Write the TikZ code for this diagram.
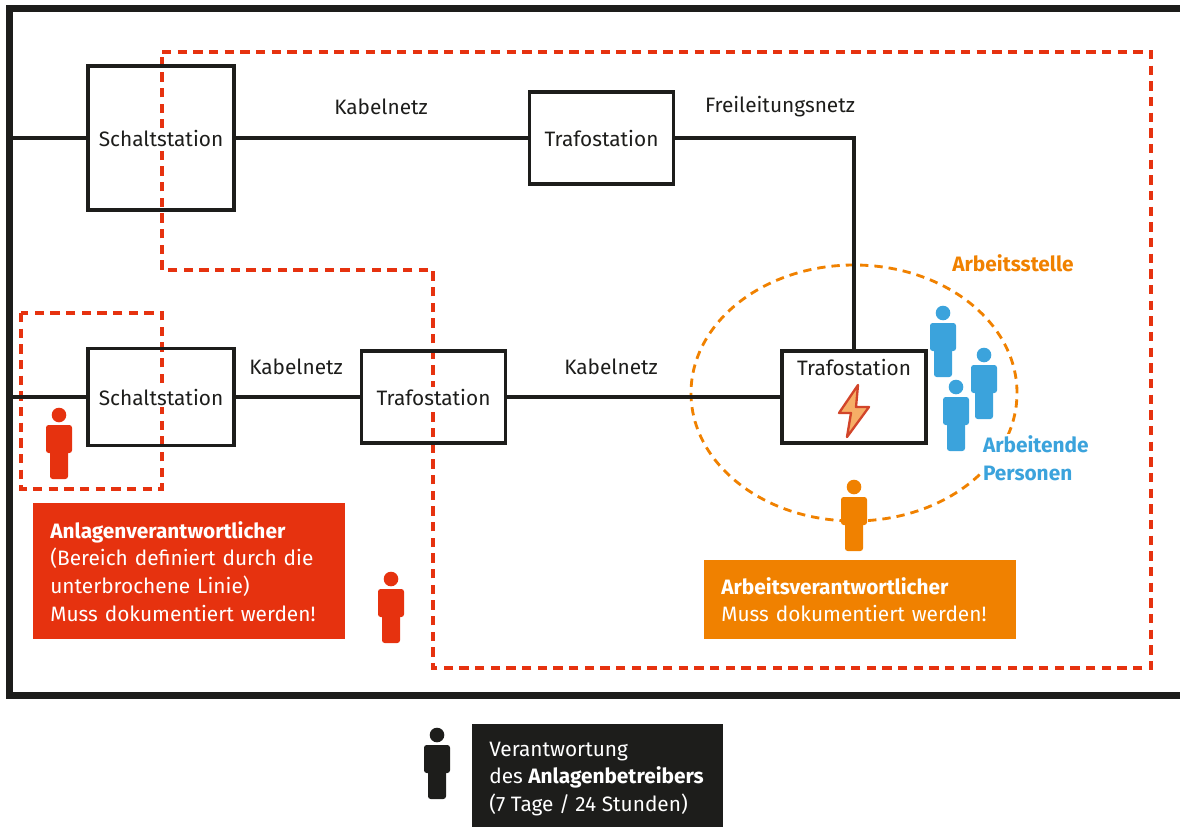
\documentclass[tikz,border=0pt]{standalone}
\usepackage{fontspec}
\setmainfont{Fira Sans}
\usetikzlibrary{positioning,shapes.geometric}

\definecolor{linegray}{HTML}{1D1D1B}
\definecolor{planred}{HTML}{E6320F}
\definecolor{workorange}{HTML}{F08100}
\definecolor{crewblue}{HTML}{3BA3DC}
\definecolor{boltfill}{HTML}{F6AE66}
\definecolor{boltline}{HTML}{D2452A}

\tikzset{
    basefont/.style={font=\fontsize{12.5}{16.6}\selectfont},
    stationbox/.style={draw=linegray, line width=1.9pt, minimum width=86.4pt, minimum height=55.2pt, outer sep=0pt},
    stationtext/.style={basefont, text=linegray, fill=white, inner sep=1.2pt},
    nettext/.style={basefont, text=linegray, inner sep=0pt},
    netline/.style={draw=linegray, line width=1.9pt},
    regionline/.style={draw=planred, line width=2.2pt, dash pattern=on 5.6pt off 3.8pt},
    notebox/.style={basefont, text=white, anchor=north west, align=left, inner xsep=10.2pt, inner ysep=0pt, minimum width=187.2pt, text width=166.8pt},
    person/.pic={
        \fill (0,0) circle (7.3);
        \fill[rounded corners=1.6pt] (-13,10) rectangle (13,38);
        \fill[rounded corners=1.6pt] (-9,30) rectangle (9,64);
    }
}

\begin{document}
\begin{tikzpicture}[x=0.6pt, y=-0.6pt]
\useasboundingbox (0,0) rectangle (1180,827);

%Regions
\draw[regionline] (162,52) -- (1151,52) -- (1151,668) -- (433,668) -- (433,270) -- (162,270) -- cycle;
\draw[regionline] (21,313) rectangle (162,489);
\node[ellipse, draw=workorange, line width=1.7pt, dash pattern=on 5pt off 3.6pt, minimum width=195.6pt, minimum height=153.6pt, inner sep=0pt] (site) at (854,393) {};

%Frame
\draw[linegray, line width=4.2pt] (1180,9) -- (9,9) -- (9,695) -- (1180,695);
\coordinate (feedtop) at (9,138);
\coordinate (feedlow) at (9,397);

%Nodes
\node[stationbox, minimum width=87.6pt, minimum height=86.4pt] (schalttop)                            at (161,138) {};
\node[stationbox]                                              (trafotop)  [right=177.3pt of schalttop]            {};
\node[stationbox, minimum width=87.6pt, minimum height=58.2pt] (schaltlow)                            at (161,397) {};
\node[stationbox]                                              (trafolow)  [right=76.5pt of schaltlow]             {};
\node[stationbox]                                              (trafosite) [right=165.9pt of trafolow]             {};

\node[stationtext] (schalttoptext) at (schalttop) {Schaltstation};
\node[stationtext] (trafotoptext)  at (trafotop)  {Trafostation};
\node[stationtext] (schaltlowtext) at (schaltlow) {Schaltstation};
\node[stationtext] (trafolowtext)  at (trafolow)  {Trafostation};
\node[stationtext] (trafositetext) at (854,367)   {Trafostation};

\node[nettext] (cabletop)  at (381,107) {Kabelnetz};
\node[nettext] (overhead)  at (780,107) {Freileitungsnetz};
\node[nettext] (cablelow)  at (296,367) {Kabelnetz};
\node[nettext] (cablesite) at (611,367) {Kabelnetz};

\node[basefont, text=workorange, inner sep=0pt] (sitetext) at (1013,263) {\textbf{Arbeitsstelle}};
\node[basefont, text=crewblue, fill=white, align=left, anchor=north west, inner sep=1pt] (crewtext) at (981,434) {\textbf{Arbeitende}\\\textbf{Personen}};

%Lines
\draw[netline] (feedtop) -- (schalttop.west);
\draw[netline] (schalttop.east) -- (trafotop.west);
\draw[netline] (trafotop.east) -| (trafosite.north);
\draw[netline] (feedlow) -- (schaltlow.west);
\draw[netline] (schaltlow.east) -- (trafolow.west);
\draw[netline] (trafolow.east) -- (trafosite.west);

%Bolt
\draw[fill=boltfill, draw=boltline, line width=1.4pt, line join=round] (858,385) -- (839,413) -- (851,413) -- (847,437) -- (869,407) -- (856,407) -- cycle;

%People
\pic[planred]    at (59,415)  {person};
\pic[planred]    at (391,579) {person};
\pic[linegray]   at (437,735) {person};
\pic[workorange] at (854,487) {person};
\pic[crewblue]   at (943,313) {person};
\pic[crewblue]   at (984,355) {person};
\pic[crewblue]   at (956,387) {person};

%Notes
\node[notebox, fill=planred, minimum height=81.6pt] (plannote) at (33,503)
    {\textbf{Anlagenverantwortlicher}\\(Bereich definiert durch die\\unterbrochene Linie)\\Muss dokumentiert werden!};
\node[notebox, fill=workorange, minimum height=47.4pt] (worknote) at (704,560)
    {\textbf{Arbeitsverantwortlicher}\\Muss dokumentiert werden!};
\node[notebox, fill=linegray, minimum width=150.6pt, text width=130pt, minimum height=61.8pt] (ownernote) at (472,724) {};
\node[basefont, text=white, align=left, anchor=west, inner sep=0pt] (ownertext) at (489,779)
    {Verantwortung\\des \textbf{Anlagenbetreibers}\\(7 Tage / 24 Stunden)};
\end{tikzpicture}
\end{document}
